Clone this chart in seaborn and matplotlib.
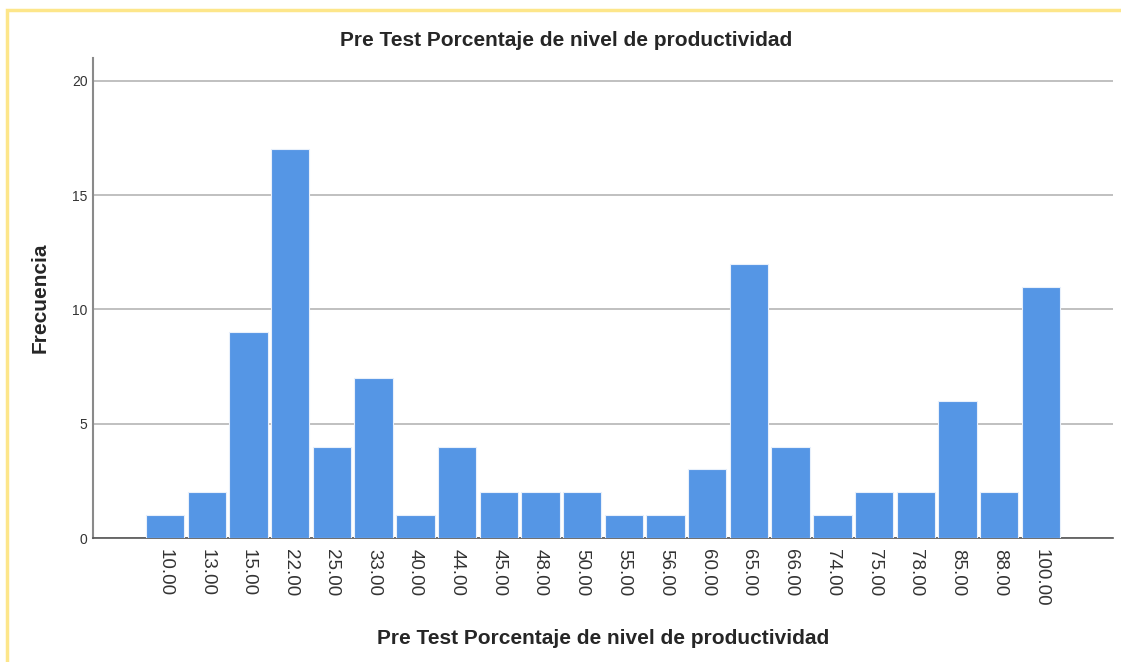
import pandas as pd
import matplotlib.pyplot as plt
import seaborn as sns
from matplotlib.patches import Rectangle

# valores
etiquetas = ['10.00', '13.00', '15.00', '22.00', '25.00', '33.00', '40.00', '44.00',
             '45.00', '48.00', '50.00', '55.00', '56.00', '60.00', '65.00', '66.00',
             '74.00', '75.00', '78.00', '85.00', '88.00', '100.00']
frecuencia = [1, 2, 9, 17, 4, 7, 1, 4, 2, 2, 2, 1, 1, 3, 12, 4, 1, 2, 2, 6, 2, 11]

df = pd.DataFrame({'porcentaje': etiquetas, 'frecuencia': frecuencia})

sns.set_style('white')
plt.rcParams['font.family'] = ['Liberation Sans', 'DejaVu Sans']

fig = plt.figure(figsize=(11.21, 6.62), dpi=100)
ax = fig.add_axes([93 / 1121, 1 - 538 / 662, (1113 - 93) / 1121, (538 - 58) / 662])

sns.barplot(data=df, x='porcentaje', y='frecuencia', order=etiquetas,
            color='#5596E5', saturation=1, width=0.92,
            edgecolor='#e8f0fb', linewidth=0.8, ax=ax, zorder=3)

ax.set_ylim(0, 21)
ax.set_xlim(-1.73, 22.73)
ax.set_yticks([0, 5, 10, 15, 20])
ax.yaxis.grid(True, color='#b5b5b5', linewidth=1.2, zorder=0)
ax.set_axisbelow(True)

for lado in ['top', 'right']:
    ax.spines[lado].set_visible(False)
ax.spines['left'].set_color('#8a8a8a')
ax.spines['left'].set_linewidth(1.5)
ax.spines['bottom'].set_color('#555555')
ax.spines['bottom'].set_linewidth(1.2)

ax.tick_params(axis='y', length=0, labelsize=10, labelcolor='#333333', pad=4)
ax.tick_params(axis='x', length=0, labelsize=13.5, labelcolor='#333333', pad=8)
plt.setp(ax.get_xticklabels(), rotation=270, va='top', ha='center')

ax.set_xlabel('Pre Test Porcentaje de nivel de productividad', fontsize=15, fontweight='bold', labelpad=16)
ax.set_ylabel('Frecuencia', fontsize=15, fontweight='bold', labelpad=16)
fig.text(0.505, 1 - 41 / 662, 'Pre Test Porcentaje de nivel de productividad',
         fontsize=15, fontweight='bold', ha='center', va='center')

# marco amarillo
fig.patches.append(Rectangle((7 / 1121, -0.1), 1.2, 1 - 10 / 662 + 0.1,
                             transform=fig.transFigure, fill=False,
                             edgecolor='#fde68a', linewidth=2.5))

fig.savefig('out.png', dpi=100)
